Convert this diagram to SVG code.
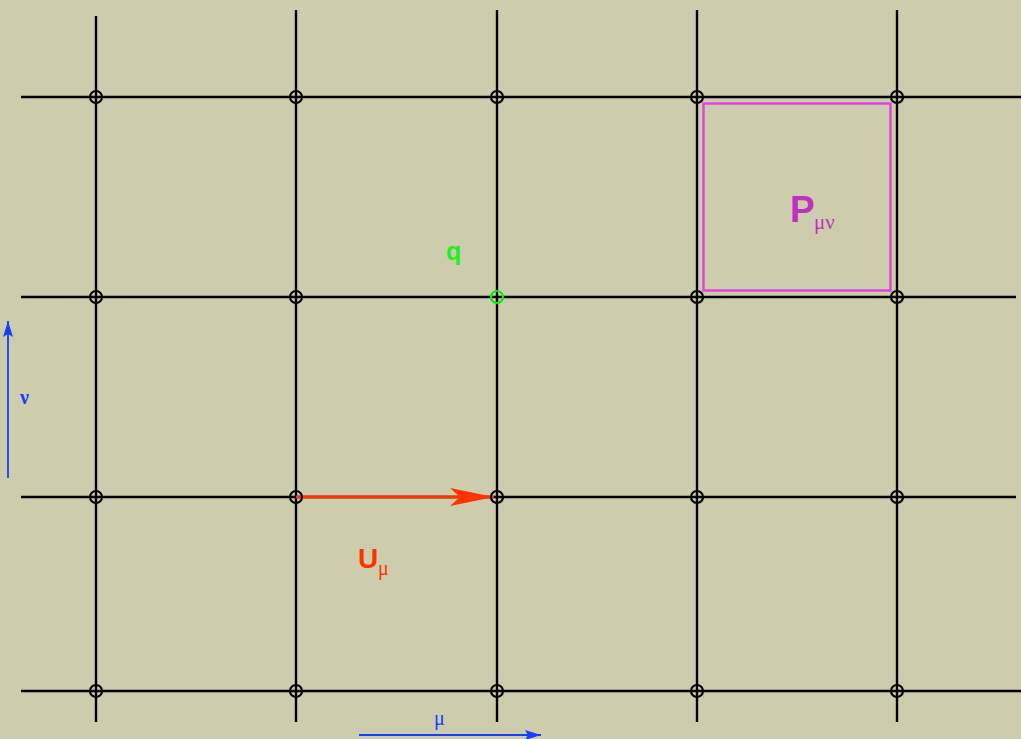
<svg xmlns="http://www.w3.org/2000/svg" width="1021" height="739" viewBox="0 0 1021 739">
<defs>
<style>
.grid{stroke:#000;stroke-width:2.4;fill:none}
.node{fill:none;stroke:#000;stroke-width:2.2}
.lbl{font-family:"Liberation Sans",Arial,sans-serif;font-weight:bold}
.sub{font-family:"Liberation Serif","Times New Roman",serif}
</style>
<marker id="redHead" markerWidth="44" markerHeight="18" refX="44" refY="9" orient="auto" markerUnits="userSpaceOnUse">
<path d="M0,0 L44,9 L0,18 L10,9 Z" fill="#ff3300"/>
</marker>
<marker id="blueHead" markerWidth="16" markerHeight="10" refX="16" refY="5" orient="auto" markerUnits="userSpaceOnUse">
<path d="M0,0 L16,5 L0,10 L3,5 Z" fill="#1a3cff"/>
</marker>
</defs>
<rect width="1021" height="739" fill="#cdcdad"/>
<g id="connectors">
<g class="grid">
<line x1="96" y1="16" x2="96" y2="722"/>
<line x1="296" y1="10" x2="296" y2="722"/>
<line x1="497" y1="10" x2="497" y2="722"/>
<line x1="697" y1="10" x2="697" y2="722"/>
<line x1="897" y1="10" x2="897" y2="722"/>
<line x1="21" y1="97" x2="1021" y2="97"/>
<line x1="21" y1="297" x2="1016" y2="297"/>
<line x1="21" y1="497" x2="1016" y2="497"/>
<line x1="21" y1="691" x2="1021" y2="691"/>
</g>
<line id="link-U" x1="296" y1="497" x2="494" y2="497" stroke="#ff3300" stroke-width="3" marker-end="url(#redHead)"/>
<line id="axis-nu" x1="8" y1="478" x2="8" y2="321" stroke="#1a3cff" stroke-width="1.8" marker-end="url(#blueHead)"/>
<line id="axis-mu" x1="359" y1="735" x2="541" y2="735" stroke="#1a3cff" stroke-width="1.8" marker-end="url(#blueHead)"/>
</g>
<g id="nodes">
<g class="node">
<circle cx="96" cy="97" r="6"/><circle cx="296" cy="97" r="6"/><circle cx="497" cy="97" r="6"/><circle cx="697" cy="97" r="6"/><circle cx="897" cy="97" r="6"/>
<circle cx="96" cy="297" r="6"/><circle cx="296" cy="297" r="6"/><circle cx="697" cy="297" r="6"/><circle cx="897" cy="297" r="6"/>
<circle cx="96" cy="497" r="6"/><circle cx="296" cy="497" r="6"/><circle cx="497" cy="497" r="6"/><circle cx="697" cy="497" r="6"/><circle cx="897" cy="497" r="6"/>
<circle cx="96" cy="691" r="6"/><circle cx="296" cy="691" r="6"/><circle cx="497" cy="691" r="6"/><circle cx="697" cy="691" r="6"/><circle cx="897" cy="691" r="6"/>
</g>
<g id="node-q">
<circle cx="497" cy="297" r="6" fill="none" stroke="#00ee00" stroke-width="2.2"/>
<text x="446" y="260" class="lbl" font-size="25" fill="#22ee22">q</text>
</g>
<g id="plaquette">
<rect x="703.5" y="103.5" width="187" height="187" fill="none" stroke="#e040e0" stroke-width="2.4"/>
<text x="790" y="222" class="lbl" font-size="37" fill="#c030c0">P</text>
<text x="814" y="229" class="sub" font-size="21" fill="#c030c0">μν</text>
</g>
<g id="label-U">
<text x="358" y="568" class="lbl" font-size="28" fill="#ff3300">U</text>
<text x="378" y="575" class="sub" font-size="20" fill="#ff3300">μ</text>
</g>
<g id="label-nu">
<text x="20" y="404" class="sub" font-size="20" font-weight="bold" fill="#1a3cff">ν</text>
</g>
<g id="label-mu">
<text x="434" y="725" class="sub" font-size="20" fill="#1a3cff">μ</text>
</g>
</g>
</svg>
